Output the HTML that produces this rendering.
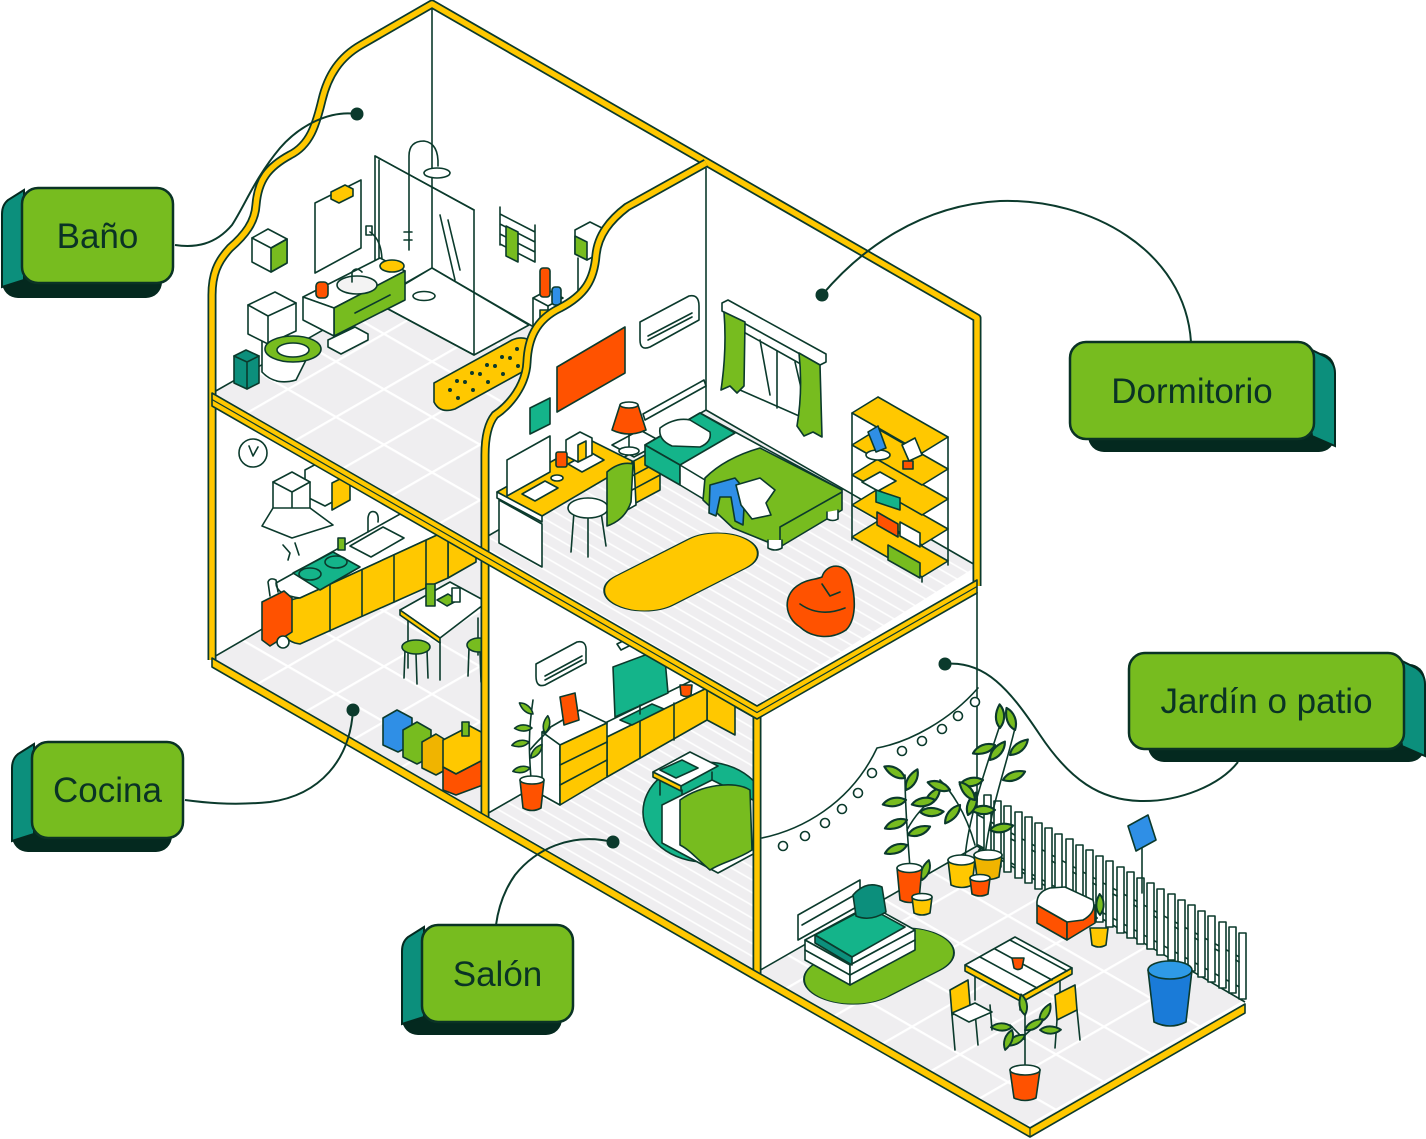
<!DOCTYPE html>
<html><head><meta charset="utf-8"><title>Casa</title>
<style>
html,body{margin:0;padding:0;background:#fff;width:1426px;height:1139px;overflow:hidden}
svg{display:block}
.l{font-family:"Liberation Sans","DejaVu Sans",sans-serif;font-size:35px;fill:#0a3325;text-anchor:middle}
.s *{stroke:#0b3a2c;stroke-width:1.6;stroke-linejoin:round;stroke-linecap:round}
.t{fill:none;stroke:#0b3a2c;stroke-width:1.6}
</style></head><body>
<svg width="1426" height="1139" viewBox="0 0 1426 1139" xmlns="http://www.w3.org/2000/svg">
<defs>
<pattern id="ga" width="48" height="48" patternUnits="userSpaceOnUse" patternTransform="rotate(30)"><line x1="0" y1="1" x2="48" y2="1" stroke="#fff" stroke-width="2.5"/></pattern>
<pattern id="gb" width="48" height="48" patternUnits="userSpaceOnUse" patternTransform="rotate(-30)"><line x1="0" y1="1" x2="48" y2="1" stroke="#fff" stroke-width="2.5"/></pattern>
<pattern id="pl" width="11" height="11" patternUnits="userSpaceOnUse" patternTransform="rotate(30)"><rect width="11" height="11" fill="#efeef0"/><line x1="0" y1="1" x2="11" y2="1" stroke="#fff" stroke-width="1.6"/></pattern>
<path id="lf" d="M0,0 C2,-6 8,-9 15,-9 C13,-3 7,1 0,0 Z"/>
<clipPath id="lv"><polygon points="487,562 757,718 757,980 487,820"/></clipPath>
<clipPath id="kc"><polygon points="212,404 485,561 485,900 212,900"/></clipPath>
</defs>

<!-- ============ FLOORS (back) ============ -->
<polygon points="212,393 432,268 570,348 485,548" fill="#efeef0"/>
<polygon points="212,393 432,268 570,348 485,548" fill="url(#ga)"/>
<polygon points="212,393 432,268 570,348 485,548" fill="url(#gb)"/>
<polygon points="212,658 432,531 485,561 485,815" fill="#efeef0"/>
<polygon points="212,658 432,531 485,561 485,815" fill="url(#ga)"/>
<polygon points="212,658 432,531 485,561 485,815" fill="url(#gb)"/>
<polygon points="757,972 977,846 1245,1002 1030,1128" fill="#efeef0"/>
<polygon points="757,972 977,846 1245,1002 1030,1128" fill="url(#ga)"/>
<polygon points="757,972 977,846 1245,1002 1030,1128" fill="url(#gb)"/>

<!-- bathroom thin lines -->
<path class="t" d="M432,4 L432,268 L214,392 M432,268 L570,348"/>

<!-- ============ BATHROOM ============ -->
<g class="s">
 <polygon points="375,302 432,268 529,325 474,355" fill="#fff"/>
 <ellipse cx="424" cy="296" rx="11" ry="4.5" fill="#fff"/>
 <path d="M409,250 L409,156 Q409,141 424,141 Q439,143 438,166" fill="none" stroke-width="3"/>
 <ellipse cx="437" cy="173" rx="13" ry="5" fill="#fff"/>
 <path d="M404,232 L412,232 M404,240 L412,240" fill="none"/>
 <polygon points="375,156 474,210 474,355 375,302" fill="none"/>
 <line x1="375" y1="156" x2="474" y2="210" stroke="#ffc800" stroke-width="3"/>
 <line x1="379" y1="160" x2="379" y2="304" fill="none"/>
 <path d="M440,215 L455,280 M448,220 L460,270" fill="none" stroke-width="1"/>
 <polygon points="252,238 268,229 287,239 287,263 271,272 252,262" fill="#fff"/>
 <polygon points="271,248 287,239 287,263 271,272" fill="#77bc1f"/>
 <path d="M252,238 L271,248 L287,239" fill="none"/>
 <polygon points="315,203 361,180 361,248 315,273" fill="#fff"/>
 <polygon points="331,192 345,185 353,189 353,196 339,203 331,199" fill="#ffc800"/>
 <rect x="366" y="226" width="6" height="9" fill="#fff"/>
 <path d="M370,232 Q382,240 382,262" fill="none"/>
 <polygon points="303,297 380,258 405,271 334,308" fill="#fff"/>
 <polygon points="334,308 405,271 405,300 334,336" fill="#77bc1f"/>
 <polygon points="303,297 334,308 334,336 303,320" fill="#fff"/>
 <line x1="355" y1="313" x2="390" y2="295"/>
 <ellipse cx="357" cy="285" rx="20" ry="9" fill="#f3f3f3"/>
 <path d="M352,282 L352,272 Q356,266 362,272" fill="none"/>
 <rect x="316" y="282" width="12" height="16" rx="4" fill="#ff5200"/>
 <ellipse cx="392" cy="266" rx="12" ry="6" fill="#ffc800"/>
 <path d="M262,336 L262,372 Q275,386 296,380 L306,360" fill="#fff"/>
 <polygon points="248,305 275,292 296,303 296,331 268,344 248,334" fill="#fff"/>
 <path d="M248,305 L268,316 L296,303 M268,316 L268,344" fill="none"/>
 <ellipse cx="293" cy="349" rx="28" ry="13" fill="#77bc1f"/>
 <ellipse cx="293" cy="350" rx="16" ry="7" fill="#fff"/>
 <polygon points="234,356 246,350 259,356 259,383 247,389 234,383" fill="#0c8f7c"/>
 <path d="M234,356 L247,362 L259,356 M247,362 L247,389" fill="none"/>
 <polygon points="328,340 355,327 368,334 368,340 341,354 328,347" fill="#fff"/>
 <path d="M434,383 L512,340 Q523,335 533,342 L533,366 L455,409 Q440,414 434,402 Z" fill="#ffc800"/>
 <g fill="#0b3a2c">
  <circle cx="450" cy="390" r="1.2" stroke="none"/><circle cx="465" cy="382" r="1.2" stroke="none"/><circle cx="480" cy="374" r="1.2" stroke="none"/>
  <circle cx="495" cy="366" r="1.2" stroke="none"/><circle cx="510" cy="358" r="1.2" stroke="none"/><circle cx="458" cy="398" r="1.2" stroke="none"/>
  <circle cx="473" cy="390" r="1.2" stroke="none"/><circle cx="488" cy="382" r="1.2" stroke="none"/><circle cx="503" cy="374" r="1.2" stroke="none"/>
  <circle cx="518" cy="366" r="1.2" stroke="none"/><circle cx="457" cy="381" r="1.2" stroke="none"/><circle cx="472" cy="373" r="1.2" stroke="none"/>
  <circle cx="487" cy="365" r="1.2" stroke="none"/><circle cx="502" cy="357" r="1.2" stroke="none"/><circle cx="517" cy="349" r="1.2" stroke="none"/>
 </g>
 <path d="M500,207 L500,245 M535,225 L535,262 M500,214 L535,232 M500,224 L535,242 M500,234 L535,252 M500,244 L535,262" fill="none"/>
 <polygon points="506,226 518,232 518,262 506,256" fill="#77bc1f"/>
 <polygon points="533,298 548,290 563,298 548,306" fill="#fff"/>
 <path d="M533,298 L533,325 M548,306 L548,330" fill="none"/>
 <rect x="540" y="268" width="10" height="29" rx="3" fill="#ff5200"/>
 <rect x="552" y="287" width="9" height="18" rx="3" fill="#2f8fe6"/>
 <rect x="540" y="310" width="10" height="8" fill="#ffc800"/>
 <polygon points="575,230 590,222 602,228 602,252 587,260 575,254" fill="#fff"/>
 <polygon points="575,236 587,242 587,260 575,254" fill="#77bc1f"/>
 <line x1="578" y1="258" x2="578" y2="300"/>
</g>

<!-- ============ BEDROOM BLOCK ============ -->
<path d="M706,163 L627,207 C610,220 598,235 596,255 C594,280 585,295 560,308 C535,320 528,340 527,362 C526,385 510,405 495,415 C487,425 485,440 485,455 L485,548 L757,705 L977,580 L977,318 Z" fill="#fff"/>
<polygon points="485,537 706,410 977,566 757,705 485,548" fill="url(#pl)"/>
<path class="t" d="M706,168 L706,410 L488,536 M706,410 L977,566"/>

<g class="s">
 <path d="M640,322 L689,296 Q699,294 699,306 L699,320 L650,347 Q640,351 640,340 Z" fill="#fff"/>
 <path d="M648,336 L692,313 M648,340 L692,317" fill="none" stroke-width="1"/>
 <polygon points="557,367 625,327 625,373 557,412" fill="#ff5200"/>
 <polygon points="530,408 550,398 550,424 530,434" fill="#14b48a"/>
 <polygon points="643,414 704,380 706,386 645,420" fill="#fff"/>
 <polygon points="740,330 815,372 815,423 740,390" fill="#fff"/>
 <path d="M777,351 L777,408 M760,340 L770,395 M795,362 L805,405" fill="none" stroke-width="1.2"/>
 <polygon points="722,303 728,300 826,354 826,362 820,365 722,311" fill="#fff"/>
 <path d="M724,312 L745,322 L744,386 L737,393 L730,386 L721,390 Q727,350 724,312 Z" fill="#77bc1f"/>
 <path d="M799,353 L820,365 L822,437 L813,432 L804,436 L797,426 Q803,390 799,353 Z" fill="#77bc1f"/>
 <polygon points="612,445 640,430 662,442 634,457" fill="#fff"/>
 <line x1="629" y1="430" x2="629" y2="450"/>
 <ellipse cx="629" cy="451" rx="10" ry="4" fill="#fff"/>
 <path d="M620,405 L638,405 L646,430 Q629,438 612,430 Z" fill="#ff5200"/>
 <ellipse cx="629" cy="405" rx="9" ry="3" fill="#fff"/>
 <polygon points="499,500 542,524 542,567 499,543" fill="#fff"/>
 <polygon points="497,492 590,440 634,462 542,516" fill="#ffc800"/>
 <polygon points="497,492 542,516 542,522 497,498" fill="#fff"/>
 <polygon points="632,462 660,447 660,490 632,505" fill="#ffc800"/>
 <polygon points="634,462 636,505 620,514 620,470" fill="#fff"/>
 <path d="M632,476 L660,461 M632,490 L660,475" fill="none"/>
 <polygon points="507,460 550,436 550,472 507,496" fill="#fff"/>
 <polygon points="522,494 545,481 558,488 535,501" fill="#fff"/>
 <polygon points="568,464 590,452 604,460 582,472" fill="#fff"/>
 <polygon points="566,440 580,432 592,438 592,455 578,462 566,456" fill="#fff"/>
 <polygon points="578,445 586,441 586,458 578,462" fill="#ffc800"/>
 <rect x="556" y="452" width="11" height="15" rx="2" fill="#ff5200"/>
 <ellipse cx="557" cy="478" rx="6" ry="3" fill="#fff"/>
 <path d="M574,512 L571,552 M588,518 L588,557 M601,512 L606,546" fill="none"/>
 <ellipse cx="588" cy="508" rx="20" ry="10" fill="#fff"/>
 <path d="M607,472 Q620,461 633,464 L631,502 Q625,520 607,526 Z" fill="#77bc1f"/>
 <polygon points="645,445 700,413 842,490 780,525" fill="#fff"/>
 <polygon points="645,445 700,413 735,433 680,465" fill="#14b48a"/>
 <polygon points="645,445 680,465 680,485 645,465" fill="#14b48a"/>
 <polygon points="680,465 780,525 780,545 680,485" fill="#fff"/>
 <path d="M660,428 Q675,417 690,420 L710,432 Q712,442 700,447 L672,446 Q658,440 660,428 Z" fill="#fff"/>
 <path d="M703,500 L705,478 Q725,458 760,448 L842,490 L842,510 L780,547 L733,528 Z" fill="#77bc1f"/>
 <path d="M780,547 L780,527 L842,492" fill="none"/>
 <path d="M768,540 L768,548 Q775,552 782,548 L782,540 M827,512 L827,519 Q833,522 838,519 L838,510" fill="#fff"/>
 <path d="M710,485 L735,478 L745,490 L743,525 L735,521 L731,497 L720,497 L716,516 L709,513 Z" fill="#2f8fe6"/>
 <path d="M736,485 L760,478 L775,490 L766,503 L771,515 L752,519 L741,505 Z" fill="#fff"/>
 <path d="M852,413 L852,540 M922,453 L922,582 M948,437 L948,565 M878,397 L878,420" fill="none"/>
 <polygon points="852,537 878,521 948,561 922,577" fill="#ffc800"/>
 <polygon points="888,545 920,563 920,578 888,560" fill="#77bc1f"/>
 <polygon points="852,505 878,489 948,529 922,545" fill="#ffc800"/>
 <polygon points="877,512 898,524 898,537 877,525" fill="#ff5200"/>
 <polygon points="900,522 920,533 920,547 900,536" fill="#fff"/>
 <polygon points="852,475 878,459 948,499 922,515" fill="#ffc800"/>
 <polygon points="862,482 880,472 896,481 878,491" fill="#fff"/>
 <polygon points="876,490 900,498 900,510 876,502" fill="#14b48a"/>
 <polygon points="852,445 878,429 948,469 922,485" fill="#ffc800"/>
 <ellipse cx="878" cy="455" rx="12" ry="5" fill="#fff"/>
 <rect x="903" y="461" width="10" height="8" fill="#ff5200"/>
 <polygon points="852,413 878,397 948,437 922,453" fill="#ffc800"/>
 <polygon points="868,432 878,426 886,448 876,452" fill="#2f8fe6"/>
 <polygon points="902,445 915,438 922,455 909,461" fill="#fff"/>
 <rect x="-75" y="-33" width="150" height="66" rx="33" transform="translate(681,572) matrix(0.866,-0.44,0.866,0.44,0,0)" fill="#ffc800"/>
 <path d="M800,627 C784,617 783,596 797,586 C806,579 815,580 822,577 C826,563 846,561 851,580 C856,600 856,620 846,630 C831,640 812,638 800,627 Z" fill="#ff5200"/>
 <path d="M800,604 Q820,618 845,608 M822,584 L830,596 L840,592" fill="none"/>
</g>

<!-- ============ KITCHEN ============ -->
<g clip-path="url(#kc)">
<path class="t" d="M212,658 L432,531 L485,561"/>
<g class="s">
 <circle cx="253" cy="453" r="14" fill="#fff"/>
 <path d="M249,446 L253,456 L258,447" fill="none"/>
 <polygon points="305,470 320,462 340,472 340,498 325,506 305,496" fill="#fff"/>
 <polygon points="332,483 350,474 350,500 332,510" fill="#ffc800"/>
 <polygon points="273,482 292,472 310,482 310,508 292,518 273,508" fill="#fff"/>
 <path d="M273,482 L292,492 L310,482 M292,492 L292,518" fill="none"/>
 <polygon points="273,508 310,508 333,525 292,538 262,526" fill="#fff"/>
 <path d="M283,545 L290,553 L288,560 M295,543 L299,555" fill="none"/>
 <polygon points="448,530 476,515 476,562 448,578" fill="#ffc800"/>
 <path d="M300,598 Q276,595 276,583 L420,503 L452,520 L448,530 Z" fill="#fff"/>
 <path d="M300,598 L448,530 L448,578 L300,644 Q284,642 283,628 L283,612 Q285,599 300,598 Z" fill="#ffc800"/>
 <path d="M330,584 L330,631 M362,570 L362,616 M394,555 L394,602 M426,540 L426,588" fill="none"/>
 <polygon points="293,573 333,552 360,567 320,590" fill="#14b48a"/>
 <ellipse cx="310" cy="574" rx="11" ry="6" fill="none"/>
 <ellipse cx="336" cy="562" rx="11" ry="6" fill="none"/>
 <polygon points="350,546 383,527 404,538 371,557" fill="#fff"/>
 <path d="M368,532 L368,518 Q369,510 375,512 Q379,514 378,522" fill="none"/>
 <rect x="338" y="538" width="7" height="12" fill="#77bc1f"/>
 <path d="M270,596 L268,582 Q270,577 276,580 L278,592" fill="none"/>
 <path d="M262,602 L284,591 L292,598 L292,632 L270,646 L262,640 Z" fill="#ff5200"/>
 <circle cx="283" cy="642" r="6" fill="#fff"/>
 <path d="M408,615 L408,668 M440,642 L440,680 M478,618 L478,655" fill="none" stroke="#ffc800" stroke-width="4"/>
 <polygon points="400,610 450,582 487,602 440,638" fill="#fff"/>
 <polygon points="400,610 440,638 440,643 400,615" fill="#ffc800"/>
 <rect x="426" y="584" width="9" height="22" fill="#77bc1f"/>
 <polygon points="437,600 448,594 458,600 447,606" fill="#77bc1f"/>
 <rect x="452" y="588" width="8" height="14" fill="#fff"/>
 <path d="M405,650 L404,678 M416,654 L417,684 M427,650 L428,678" fill="none"/>
 <ellipse cx="416" cy="647" rx="14" ry="7" fill="#77bc1f"/>
 <path d="M469,648 L468,676 M480,652 L481,682" fill="none"/>
 <ellipse cx="479" cy="645" rx="12" ry="7" fill="#77bc1f"/>
 <polygon points="383,718 397,710 412,718 412,745 398,752 383,745" fill="#2f8fe6"/>
 <polygon points="403,730 417,722 431,730 431,757 417,764 403,757" fill="#77bc1f"/>
 <polygon points="422,742 436,734 449,742 449,768 436,775 422,768" fill="#f0b400"/>
 <polygon points="443,740 470,726 483,733 483,760 456,774 443,767" fill="#ffc800"/>
 <polygon points="443,767 456,774 483,760 483,785 456,795 443,790" fill="#ff5200"/>
 <rect x="462" y="722" width="7" height="14" fill="#77bc1f"/>
</g>
</g>

<!-- ============ LIVING ============ -->
<polygon points="485,815 704,689 757,720 757,972 485,818" fill="url(#pl)"/>
<g clip-path="url(#lv)">
<path class="t" d="M485,815 L704,689 L757,719"/>
<g class="s">
 <path d="M536,664 L577,642 Q587,640 586,652 L586,663 L545,685 Q536,688 536,676 Z" fill="#fff"/>
 <path d="M545,676 L582,656 M545,680 L582,660" fill="none" stroke-width="1"/>
 <polygon points="617,644 633,636 637,642 621,650" fill="#fff"/>
 <polygon points="707,688 735,704 735,735 707,720" fill="#ffc800"/>
 <polygon points="605,723 693,680 707,688 607,737" fill="#fff"/>
 <polygon points="607,737 707,688 707,720 607,777" fill="#ffc800"/>
 <path d="M640,720 L640,758 M674,703 L674,740" fill="none"/>
 <polygon points="542,732 580,710 607,723 560,745" fill="#fff"/>
 <polygon points="542,732 560,745 560,805 542,795" fill="#fff"/>
 <polygon points="560,745 607,723 607,777 560,805" fill="#ffc800"/>
 <path d="M560,765 L607,742 M560,785 L607,760" fill="none"/>
 <polygon points="613,667 664,648 668,693 615,717" fill="#14b48a"/>
 <polygon points="620,720 652,704 664,709 632,725" fill="#14b48a"/>
 <line x1="640" y1="705" x2="640" y2="714"/>
 <polygon points="560,697 575,693 579,720 564,725" fill="#ff5200"/>
 <path d="M680,685 L692,685 L691,695 Q686,698 681,695 Z" fill="#ff5200"/>
 <path d="M531,780 C530,760 527,740 533,700 M530,750 C538,740 545,735 550,728" fill="none"/>
 <use href="#lf" transform="translate(530,768) rotate(-160)" fill="#77bc1f"/>
 <use href="#lf" transform="translate(531,758) rotate(-20)" fill="#77bc1f"/>
 <use href="#lf" transform="translate(529,742) rotate(200)" fill="#77bc1f"/>
 <use href="#lf" transform="translate(532,728) rotate(-150)" fill="#77bc1f"/>
 <use href="#lf" transform="translate(533,714) rotate(-110)" fill="#77bc1f"/>
 <use href="#lf" transform="translate(545,733) rotate(-50)" fill="#77bc1f"/>
 <path d="M520,780 L544,780 L541,808 Q532,813 523,808 Z" fill="#ff5200"/>
 <ellipse cx="532" cy="780" rx="12" ry="4" fill="#fff"/>
 <ellipse cx="705" cy="812" rx="62" ry="50" fill="#14b48a"/>
 <path d="M660,780 L660,795 M682,790 L682,800 M712,772 L712,784" fill="none" stroke="#ffc800" stroke-width="4"/>
 <polygon points="653,772 690,752 718,766 681,786" fill="#fff"/>
 <polygon points="653,772 681,786 681,791 653,777" fill="#ffc800"/>
 <polygon points="660,770 682,760 698,768 676,778" fill="#14b48a"/>
 <polygon points="662,805 712,780 757,802 757,852 718,873 662,843" fill="#fff"/>
 <path d="M680,800 C700,785 735,780 750,790 L752,850 C737,860 722,862 710,870 C698,860 690,850 680,845 Z" fill="#77bc1f"/>
</g>
</g>

<!-- ============ GARDEN ============ -->
<path class="t" d="M757,972 L977,846 L977,592 M977,846 L1245,1002"/>
<g class="s">
 <path d="M762,838 C800,830 850,805 877,748 C910,742 950,720 978,688" fill="none" stroke-width="1.4"/>
 <g fill="#fff">
  <circle cx="783" cy="846" r="4.5"/><circle cx="805" cy="836" r="4.5"/><circle cx="825" cy="823" r="4.5"/>
  <circle cx="842" cy="809" r="4.5"/><circle cx="858" cy="793" r="4.5"/><circle cx="872" cy="773" r="4.5"/>
  <circle cx="902" cy="751" r="4.5"/><circle cx="922" cy="741" r="4.5"/><circle cx="942" cy="729" r="4.5"/>
  <circle cx="958" cy="716" r="4.5"/><circle cx="975" cy="702" r="4.5"/>
 </g>
 <path d="M978,815 L1245,960 M978,845 L1245,990" fill="none"/>
 <g fill="#fff">
  <rect x="984" y="795" width="7" height="66"/><rect x="994" y="801" width="7" height="66"/><rect x="1004" y="806" width="7" height="66"/>
  <rect x="1015" y="812" width="7" height="66"/><rect x="1025" y="817" width="7" height="66"/><rect x="1035" y="823" width="7" height="66"/>
  <rect x="1045" y="828" width="7" height="66"/><rect x="1055" y="834" width="7" height="66"/><rect x="1066" y="839" width="7" height="66"/>
  <rect x="1076" y="845" width="7" height="66"/><rect x="1086" y="850" width="7" height="66"/><rect x="1096" y="856" width="7" height="66"/>
  <rect x="1106" y="861" width="7" height="66"/><rect x="1117" y="867" width="7" height="66"/><rect x="1127" y="872" width="7" height="66"/>
  <rect x="1137" y="878" width="7" height="66"/><rect x="1147" y="883" width="7" height="66"/><rect x="1157" y="889" width="7" height="66"/>
  <rect x="1168" y="894" width="7" height="66"/><rect x="1178" y="900" width="7" height="66"/><rect x="1188" y="905" width="7" height="66"/>
  <rect x="1198" y="911" width="7" height="66"/><rect x="1208" y="916" width="7" height="66"/><rect x="1219" y="922" width="7" height="66"/>
  <rect x="1229" y="927" width="7" height="66"/><rect x="1239" y="933" width="7" height="66"/>
 </g>
 <path d="M991,828 L994,830 M1011,839 L1015,841 M1032,850 L1035,852 M1052,861 L1055,863 M1073,872 L1076,874 M1093,883 L1096,885 M1113,894 L1117,896 M1134,905 L1137,907 M1154,916 L1157,918 M1175,927 L1178,929 M1195,938 L1198,940 M1215,949 L1219,951 M1236,960 L1239,962" fill="none" stroke="#ffc800" stroke-width="3"/>
 <line x1="1142" y1="845" x2="1142" y2="893"/>
 <polygon points="1128,826 1148,815 1156,840 1136,851" fill="#2f8fe6"/>
 <rect x="-70" y="-40" width="140" height="80" rx="40" transform="translate(879,966) matrix(0.866,-0.44,0.866,0.44,0,0)" fill="#77bc1f"/>
 <polygon points="798,915 860,880 860,905 798,940" fill="#fff"/>
 <path d="M802,925 L858,893" fill="none" stroke="#ffc800" stroke-width="3"/>
 <polygon points="805,940 870,905 915,930 850,965" fill="#fff"/>
 <polygon points="805,940 850,965 850,985 805,960" fill="#fff"/>
 <polygon points="850,965 915,930 915,950 850,985" fill="#fff"/>
 <path d="M805,950 L850,975 M850,975 L915,940" fill="none" stroke="#ffc800" stroke-width="2.5"/>
 <polygon points="815,935 868,907 905,927 852,957" fill="#14b48a"/>
 <polygon points="815,935 852,957 852,965 815,943" fill="#0c8f7c"/>
 <path d="M853,895 Q866,880 882,887 L886,912 Q870,922 856,916 Z" fill="#0c8f7c"/>
 <path d="M910,868 C908,840 905,810 905,775 M907,830 C915,815 925,805 932,800 M965,858 C968,820 985,770 1000,725 M985,856 C990,810 1005,770 1015,728 M975,845 C965,810 950,790 940,780" fill="none"/>
 <g fill="#77bc1f">
  <use href="#lf" transform="translate(906,800) rotate(-160) scale(1.35)"/><use href="#lf" transform="translate(906,790) rotate(-30) scale(1.35)"/>
  <use href="#lf" transform="translate(905,778) rotate(-120) scale(1.35)"/><use href="#lf" transform="translate(907,820) rotate(190) scale(1.35)"/>
  <use href="#lf" transform="translate(907,845) rotate(-170) scale(1.35)"/><use href="#lf" transform="translate(925,806) rotate(-20) scale(1.35)"/>
  <use href="#lf" transform="translate(920,812) rotate(30) scale(1.35)"/><use href="#lf" transform="translate(908,835) rotate(10) scale(1.35)"/>
  <use href="#lf" transform="translate(1000,728) rotate(-60) scale(1.35)"/><use href="#lf" transform="translate(995,745) rotate(-170) scale(1.35)"/>
  <use href="#lf" transform="translate(990,760) rotate(-20) scale(1.35)"/><use href="#lf" transform="translate(983,780) rotate(200) scale(1.35)"/>
  <use href="#lf" transform="translate(1015,730) rotate(-80) scale(1.35)"/><use href="#lf" transform="translate(1010,755) rotate(-10) scale(1.35)"/>
  <use href="#lf" transform="translate(1003,780) rotate(10) scale(1.35)"/><use href="#lf" transform="translate(995,810) rotate(-150) scale(1.35)"/>
  <use href="#lf" transform="translate(950,790) rotate(-130) scale(1.35)"/><use href="#lf" transform="translate(960,805) rotate(160) scale(1.35)"/>
  <use href="#lf" transform="translate(968,815) rotate(-40) scale(1.35)"/><use href="#lf" transform="translate(975,800) rotate(-100) scale(1.35)"/>
  <use href="#lf" transform="translate(990,830) rotate(20) scale(1.35)"/><use href="#lf" transform="translate(935,800) rotate(-160) scale(1.35)"/>
  <use href="#lf" transform="translate(922,880) rotate(-40) scale(1.2)"/><use href="#lf" transform="translate(920,885) rotate(200) scale(1.2)"/>
  <use href="#lf" transform="translate(980,870) rotate(-60) scale(1.2)"/><use href="#lf" transform="translate(1100,915) rotate(-60) scale(1.2)"/>
  <use href="#lf" transform="translate(1097,918) rotate(-140) scale(1.2)"/>
 </g>
 <path d="M897,868 L922,868 L919,900 Q910,905 900,900 Z" fill="#ff5200"/>
 <ellipse cx="909.5" cy="868" rx="12.5" ry="4.5" fill="#fff"/>
 <path d="M948,860 L975,860 L972,885 Q962,890 951,885 Z" fill="#ffc800"/>
 <ellipse cx="961.5" cy="860" rx="13.5" ry="5" fill="#fff"/>
 <path d="M974,855 L1002,855 L999,877 Q988,882 977,877 Z" fill="#f0b400"/>
 <ellipse cx="988" cy="855" rx="14" ry="5" fill="#fff"/>
 <path d="M970,878 L990,878 L988,894 Q980,898 972,894 Z" fill="#ff5200"/>
 <ellipse cx="980" cy="878" rx="10" ry="3.5" fill="#fff"/>
 <path d="M912,897 L932,897 L930,913 Q922,917 914,913 Z" fill="#ffc800"/>
 <ellipse cx="922" cy="897" rx="10" ry="3.5" fill="#fff"/>
 <polygon points="1037,905 1067,922 1067,940 1037,923" fill="#ff5200"/>
 <polygon points="1067,922 1095,905 1095,923 1067,940" fill="#ff5200"/>
 <path d="M1037,905 Q1036,892 1050,888 L1065,887 L1093,900 Q1097,912 1083,920 L1067,922 Z" fill="#fff"/>
 <path d="M1090,928 L1108,928 L1106,945 Q1099,949 1092,945 Z" fill="#ffc800"/>
 <path d="M975,975 L975,1000 M1060,975 L1060,1000 M1020,995 L1020,1010" fill="none" stroke="#ffc800" stroke-width="4"/>
 <polygon points="950,990 968,980 970,1005 952,1015" fill="#ffc800"/>
 <path d="M952,1015 L955,1050 M975,1012 L978,1045 M990,1005 L992,1030" fill="none"/>
 <polygon points="952,1013 975,1003 992,1012 969,1022" fill="#fff"/>
 <polygon points="965,965 1015,937 1072,968 1022,996" fill="#fff"/>
 <polygon points="965,965 1022,996 1022,1002 965,971" fill="#ffc800"/>
 <polygon points="1022,996 1072,968 1072,974 1022,1002" fill="#ffc800"/>
 <path d="M980,957 L1037,988 M995,949 L1052,980 M1010,940 L1067,971" fill="none" stroke-width="1"/>
 <path d="M1012,958 L1024,958 L1022,968 Q1018,971 1014,968 Z" fill="#ff5200"/>
 <polygon points="1055,995 1075,985 1077,1010 1057,1020" fill="#ffc800"/>
 <path d="M1057,1020 L1055,1048 M1077,1010 L1080,1040" fill="none"/>
 <path d="M1025,1070 L1025,1015 M1025,1040 L1010,1025 M1025,1035 L1042,1020" fill="none"/>
 <g fill="#77bc1f">
  <use href="#lf" transform="translate(1025,1015) rotate(-70) scale(1.2)"/><use href="#lf" transform="translate(1012,1027) rotate(-150) scale(1.2)"/>
  <use href="#lf" transform="translate(1040,1022) rotate(-30) scale(1.2)"/><use href="#lf" transform="translate(1025,1035) rotate(180) scale(1.2)"/>
  <use href="#lf" transform="translate(1025,1030) rotate(0) scale(1.2)"/><use href="#lf" transform="translate(1012,1030) rotate(140) scale(1.2)"/>
  <use href="#lf" transform="translate(1040,1030) rotate(30) scale(1.2)"/>
 </g>
 <path d="M1010,1070 L1040,1070 L1036,1098 Q1025,1103 1014,1098 Z" fill="#ff5200"/>
 <ellipse cx="1025" cy="1070" rx="15" ry="5" fill="#fff"/>
 <path d="M1148,970 L1192,970 L1186,1022 Q1170,1030 1154,1022 Z" fill="#1a7bd8"/>
 <ellipse cx="1170" cy="970" rx="22" ry="9" fill="#2e9ae6"/>
</g>

<!-- ============ STRUCTURE (yellow) ============ -->
<g fill="none" stroke-linejoin="round">
 <path d="M212,660 L212,295 C212,275 217,262 230,248 C245,235 255,222 256,205 C258,180 268,167 290,155 C310,145 316,125 322,100 C328,75 340,57 361,45 L432,4 L977,318 L977,586" stroke="#0b3a2c" stroke-width="9"/>
 <path d="M212,660 L212,295 C212,275 217,262 230,248 C245,235 255,222 256,205 C258,180 268,167 290,155 C310,145 316,125 322,100 C328,75 340,57 361,45 L432,4 L977,318 L977,586" stroke="#ffc800" stroke-width="5.5"/>
 <path d="M706,163 L627,207 C610,220 598,235 596,255 C594,280 585,295 560,308 C535,320 528,340 527,362 C526,385 510,405 495,415 C487,425 485,440 485,455 L485,818" stroke="#0b3a2c" stroke-width="9"/>
 <path d="M706,163 L627,207 C610,220 598,235 596,255 C594,280 585,295 560,308 C535,320 528,340 527,362 C526,385 510,405 495,415 C487,425 485,440 485,455 L485,818" stroke="#ffc800" stroke-width="5.5"/>
 <path d="M757,705 L757,975" stroke="#0b3a2c" stroke-width="9"/>
 <path d="M757,705 L757,975" stroke="#ffc800" stroke-width="5.5"/>
</g>
<polygon points="212,393 757,706 977,580 977,593 757,719 212,406" fill="#ffc800" stroke="#0b3a2c" stroke-width="1.6" stroke-linejoin="round"/>
<path d="M212,399.5 L757,712.5 L977,586.5" fill="none" stroke="#0b3a2c" stroke-width="1.2"/>
<polygon points="212,658 757,972 1030,1128 1245,1004 1245,1013 1030,1137 757,981 212,667" fill="#ffc800" stroke="#0b3a2c" stroke-width="1.6" stroke-linejoin="round"/>
<path d="M1030,1128 L1030,1137" stroke="#0b3a2c" stroke-width="1.2"/>

<!-- ============ CONNECTORS ============ -->
<g fill="none" stroke="#0b3a2c" stroke-width="2">
 <path d="M357,114 C330,110 300,125 280,148 C255,178 245,205 232,225 C215,245 195,248 175,245"/>
 <path d="M822,295 C860,250 920,205 1000,201 C1090,198 1185,250 1191,342"/>
 <path d="M945,664 C985,660 1010,690 1040,735 C1070,780 1100,800 1140,801 C1180,802 1220,785 1238,762"/>
 <path d="M353,710 C350,760 320,795 270,802 C230,806 200,802 185,800"/>
 <path d="M613,842 C570,832 535,850 515,875 C503,892 498,910 496,925"/>
</g>
<g fill="#0b3a2c">
 <circle cx="357" cy="114" r="6.5"/><circle cx="822" cy="295" r="6.5"/><circle cx="945" cy="664" r="6.5"/>
 <circle cx="353" cy="710" r="6.5"/><circle cx="613" cy="842" r="6.5"/>
</g>

<!-- ============ LABELS ============ -->
<rect x="2" y="199" width="160" height="99" rx="16" fill="#04291f"/>
<path d="M24,190 L8,200 Q2,205 2,214 L2,287 L24,280 Z" fill="#0c8f7c" stroke="#04291f" stroke-width="2"/>
<rect x="22" y="188" width="151" height="95" rx="16" fill="#77bc1f" stroke="#0a3325" stroke-width="2.5"/>
<text x="97.5" y="248" class="l">Baño</text>

<rect x="1088" y="353" width="247" height="99" rx="16" fill="#04291f"/>
<path d="M1300,344 L1326,357 Q1335,363 1335,373 L1335,446 L1312,436 Z" fill="#0c8f7c" stroke="#04291f" stroke-width="2"/>
<rect x="1070" y="342" width="244" height="97" rx="16" fill="#77bc1f" stroke="#0a3325" stroke-width="2.5"/>
<text x="1192" y="403" class="l">Dormitorio</text>

<rect x="1148" y="664" width="277" height="98" rx="16" fill="#04291f"/>
<path d="M1390,655 L1416,668 Q1425,674 1425,684 L1425,756 L1402,746 Z" fill="#0c8f7c" stroke="#04291f" stroke-width="2"/>
<rect x="1129" y="653" width="275" height="96" rx="16" fill="#77bc1f" stroke="#0a3325" stroke-width="2.5"/>
<text x="1266.5" y="713" class="l">Jardín o patio</text>

<rect x="12" y="753" width="160" height="99" rx="16" fill="#04291f"/>
<path d="M34,744 L18,754 Q12,759 12,768 L12,841 L34,834 Z" fill="#0c8f7c" stroke="#04291f" stroke-width="2"/>
<rect x="32" y="742" width="151" height="96" rx="16" fill="#77bc1f" stroke="#0a3325" stroke-width="2.5"/>
<text x="107.5" y="802" class="l">Cocina</text>

<rect x="402" y="936" width="160" height="99" rx="16" fill="#04291f"/>
<path d="M424,927 L408,937 Q402,942 402,951 L402,1024 L424,1017 Z" fill="#0c8f7c" stroke="#04291f" stroke-width="2"/>
<rect x="422" y="925" width="151" height="97" rx="16" fill="#77bc1f" stroke="#0a3325" stroke-width="2.5"/>
<text x="497.5" y="986" class="l">Salón</text>
</svg>
</body></html>
